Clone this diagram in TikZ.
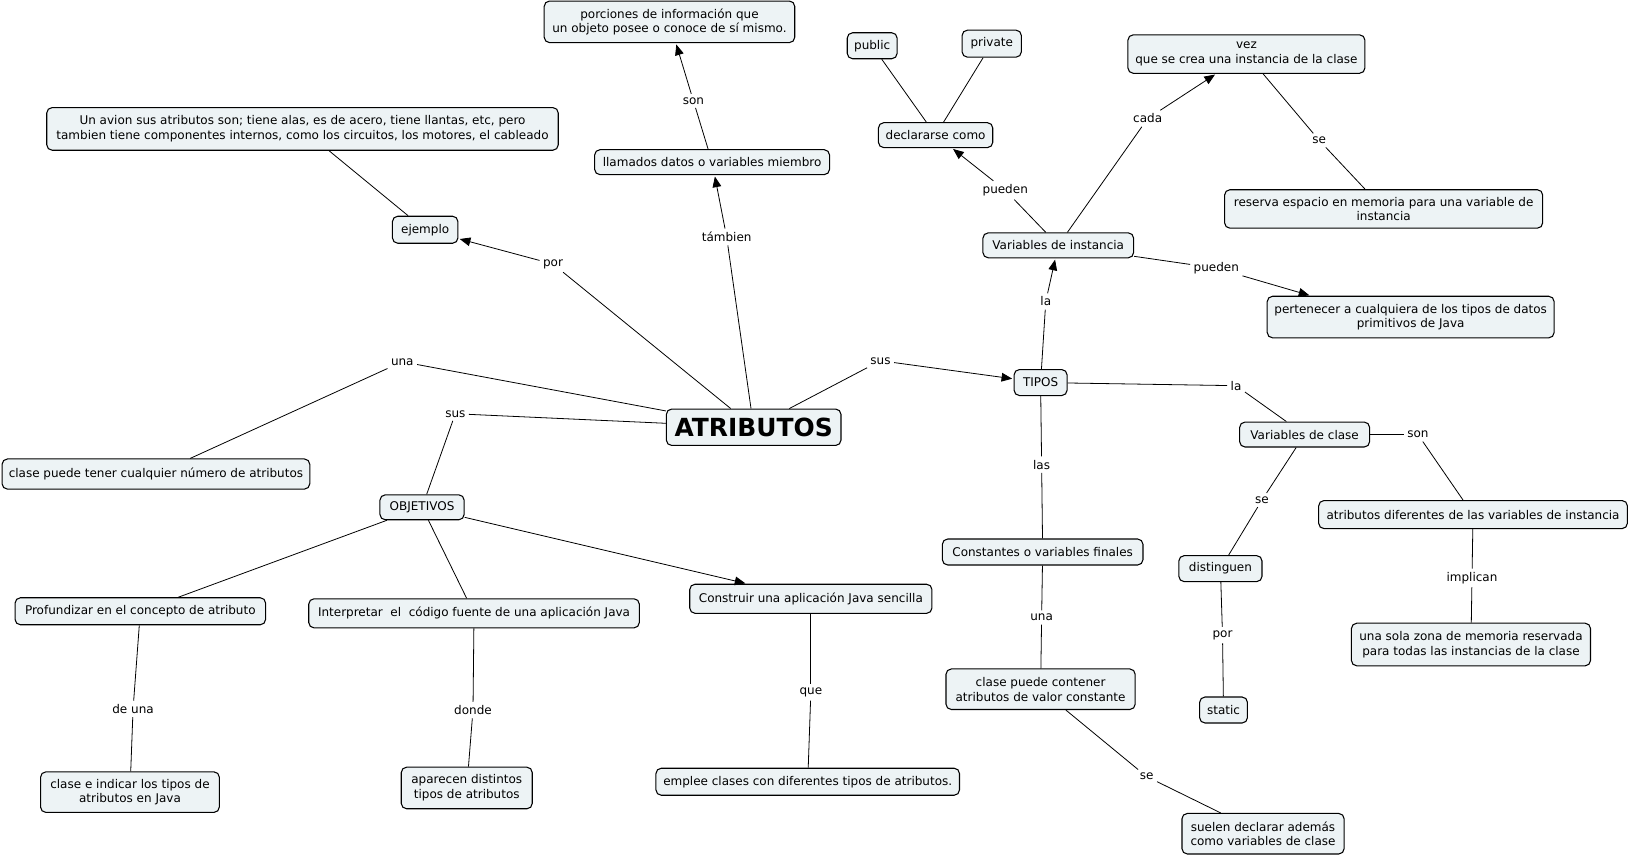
\documentclass[tikz,border=0pt]{standalone}
\usepackage{fontspec}
\setmainfont{DejaVu Sans}
\usetikzlibrary{arrows.meta}
\definecolor{boxfill}{HTML}{EDF3F5}
\begin{document}
\begin{tikzpicture}[x=0.7796pt,y=-0.7796pt,
 cn/.style={draw=black,line width=0.8pt,fill=boxfill,rounded corners=4pt,align=center,font=\fontsize{9}{11}\selectfont,inner sep=0pt},
 wh/.style 2 args={minimum width=#1*0.7796pt,minimum height=#2*0.7796pt},
 lb/.style={font=\fontsize{9}{11}\selectfont,inner sep=2.5pt,fill=white},
 ln/.style={draw,line width=0.6pt},
 ar/.style={ln,-{Triangle[length=8pt,width=6.5pt]},shorten >=1pt}]
\useasboundingbox (0,0) rectangle (1568,825);
\fill[white] (0,0) rectangle (1568,825);
% concepts
\node[cn,wh={241}{40}] (porc) at (644,21) {porciones de información que\\un objeto posee o conoce de sí mismo.};
\node[cn,wh={492}{41}] (avion) at (291,124) {Un avion sus atributos son; tiene alas, es de acero, tiene llantas, etc, pero\\ tambien tiene componentes internos, como los circuitos, los motores, el cableado};
\node[cn,wh={226}{24}] (llam) at (685,156) {llamados datos o variables miembro};
\node[cn,wh={63}{26}] (ejem) at (409,221) {ejemplo};
\node[cn,wh={48}{25}] (pub) at (839,44) {public};
\node[cn,wh={57}{26}] (priv) at (954,42) {private};
\node[cn,wh={110}{24}] (decl) at (900,130) {declararse como};
\node[cn,wh={228}{37}] (vez) at (1199,52) {vez\\que se crea una instancia de la clase};
\node[cn,wh={306}{37}] (reser) at (1331,201) {reserva espacio en memoria para una variable de\\instancia};
\node[cn,wh={145}{24}] (vinst) at (1018,236) {Variables de instancia};
\node[cn,wh={276}{40}] (pert) at (1357,305) {pertenecer a cualquiera de los tipos de datos\\primitivos de Java};
\node[cn,wh={51}{25}] (tipos) at (1001,368) {TIPOS};
\node[cn,wh={168}{35},font=\fontsize{18.7}{20}\selectfont\bfseries] (atr) at (725,411) {ATRIBUTOS};
\node[cn,wh={296}{29}] (cpt) at (150,456) {clase puede tener cualquier número de atributos};
\node[cn,wh={81}{24}] (obj) at (406,488) {OBJETIVOS};
\node[cn,wh={125}{24}] (vcla) at (1255,418) {Variables de clase};
\node[cn,wh={297}{27}] (adif) at (1417,495) {atributos diferentes de las variables de instancia};
\node[cn,wh={193}{25}] (const) at (1003,531) {Constantes o variables finales};
\node[cn,wh={80}{25}] (dist) at (1174,547) {distinguen};
\node[cn,wh={241}{26}] (prof) at (135,588) {Profundizar en el concepto de atributo};
\node[cn,wh={318}{28}] (interp) at (456,590) {Interpretar \ el \ código fuente de una aplicación Java};
\node[cn,wh={233}{28}] (constr) at (780,576) {Construir una aplicación Java sencilla};
\node[cn,wh={230}{41}] (usola) at (1415,620) {una sola zona de memoria reservada\\ para todas las instancias de la clase};
\node[cn,wh={182}{39}] (ccont) at (1001,663) {clase puede contener\\atributos de valor constante};
\node[cn,wh={46}{25}] (stat) at (1177,683) {static};
\node[cn,wh={172}{39}] (cind) at (125,762) {clase e indicar los tipos de\\atributos en Java};
\node[cn,wh={126}{40}] (apar) at (449,758) {aparecen distintos\\tipos de atributos};
\node[cn,wh={292}{26}] (empl) at (777,752) {emplee clases con diferentes tipos de atributos.};
\node[cn,wh={156}{39}] (suel) at (1215,802) {suelen declarar además\\como variables de clase};
\coordinate (pertin) at ([xshift=33pt]pert.north west);
% link labels
\node[lb] (lson) at (667,97) {son};
\node[lb] (ltam) at (699,228) {támbien};
\node[lb] (lpor) at (532,254) {por};
\node[lb] (luna) at (387,348) {una};
\node[lb] (lsus) at (438,398) {sus};
\node[lb] (lsus2) at (847,347) {sus};
\node[lb] (lla) at (1006,290) {la};
\node[lb] (lpue) at (967,183) {pueden};
\node[lb] (lcada) at (1104,114) {cada};
\node[lb] (lse) at (1269,135) {se};
\node[lb] (lpue2) at (1170,258) {pueden};
\node[lb] (lla2) at (1189,371) {la};
\node[lb] (lson2) at (1364,418) {son};
\node[lb] (lse2) at (1214,481) {se};
\node[lb] (lpor2) at (1176,611) {por};
\node[lb] (limp) at (1416,556) {implican};
\node[lb] (llas) at (1002,447) {las};
\node[lb] (luna2) at (1002,594) {una};
\node[lb] (lse3) at (1103,747) {se};
\node[lb] (ldeuna) at (128,682) {de una};
\node[lb] (ldonde) at (455,683) {donde};
\node[lb] (lque) at (780,666) {que};
% connectors
\draw[ln] (llam) -- (lson); \draw[ar] (lson) -- (porc);
\draw[ln] (atr) -- (ltam); \draw[ar] (ltam) -- (llam);
\draw[ln] (atr) -- (lpor); \draw[ar] (lpor) -- (ejem);
\draw[ln] (ejem) -- (avion);
\draw[ln] (atr) -- (luna); \draw[ln] (luna) -- (cpt);
\draw[ln] (atr) -- (lsus); \draw[ln] (lsus) -- (obj);
\draw[ln] (atr) -- (lsus2); \draw[ar] (lsus2) -- (tipos);
\draw[ln] (tipos) -- (lla); \draw[ar] (lla) -- (vinst);
\draw[ln] (vinst) -- (lpue); \draw[ar] (lpue) -- (decl);
\draw[ln] (pub) -- (decl); \draw[ln] (priv) -- (decl);
\draw[ln] (vinst) -- (lcada); \draw[ar] (lcada) -- (vez);
\draw[ln] (vez) -- (lse); \draw[ln] (lse) -- (reser);
\draw[ln] (vinst) -- (lpue2); \draw[ar] (lpue2) -- (pertin);
\draw[ln] (tipos) -- (lla2); \draw[ln] (lla2) -- (vcla);
\draw[ln] (vcla) -- (lson2); \draw[ln] (lson2) -- (adif);
\draw[ln] (vcla) -- (lse2); \draw[ln] (lse2) -- (dist);
\draw[ln] (dist) -- (lpor2); \draw[ln] (lpor2) -- (stat);
\draw[ln] (adif) -- (limp); \draw[ln] (limp) -- (usola);
\draw[ln] (tipos) -- (llas); \draw[ln] (llas) -- (const);
\draw[ln] (const) -- (luna2); \draw[ln] (luna2) -- (ccont);
\draw[ln] (ccont) -- (lse3); \draw[ln] (lse3) -- (suel);
\draw[ln] (obj) -- (prof); \draw[ln] (obj) -- (interp); \draw[ar] (obj) -- (constr);
\draw[ln] (prof) -- (ldeuna); \draw[ln] (ldeuna) -- (cind);
\draw[ln] (interp) -- (ldonde); \draw[ln] (ldonde) -- (apar);
\draw[ln] (constr) -- (lque); \draw[ln] (lque) -- (empl);
\end{tikzpicture}
\end{document}
